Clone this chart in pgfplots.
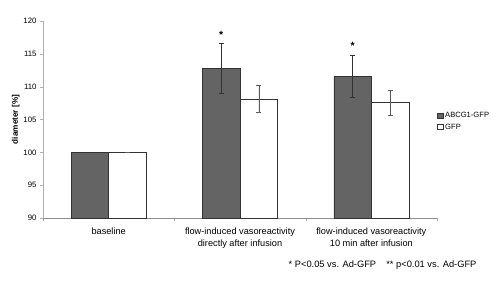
\documentclass[border=0pt]{standalone}
\usepackage{pgfplots}
\pgfplotsset{compat=1.18}
\usepackage{fontspec}
\setmainfont{Liberation Sans}
\definecolor{darkbar}{HTML}{646464}
\definecolor{axgray}{HTML}{B0B0B0}
\begin{document}
\begin{tikzpicture}
\path[use as bounding box] (-43pt,-67pt) rectangle (457pt,218pt);
\begin{axis}[
  at={(0,0)}, anchor=south west,
  scale only axis, width=394pt, height=197pt,
  xmin=0.5, xmax=3.5, ymin=90, ymax=120,
  ybar, bar width=37.5pt,
  axis lines*=left,
  x axis line style={-, draw=axgray!80!black},
  y axis line style={-, draw=axgray},
  ytick={90,95,...,120},
  xtick={1,2,3},
  xticklabels={baseline,{flow-induced vasoreactivity\\directly after infusion},{flow-induced vasoreactivity\\10 min after infusion}},
  xticklabel style={align=center, font=\fontsize{9.2}{12}\selectfont, yshift=-3pt},
  major x tick style={draw=none},
  minor xtick={0.5,1.5,2.5,3.5},
  minor x tick style={axgray},
  minor tick length=3pt,
  tick align=outside,
  major tick length=3pt,
  ytick style={axgray},
  yticklabel style={font=\fontsize{7.8}{8}\selectfont},
  /pgf/number format/assume math mode=true,
  ylabel={\textbf{diameter [\%]}},
  ylabel style={font=\fontsize{8.2}{8}\selectfont, yshift=-3pt},
  legend style={at={(1.0,0.49)}, anchor=west, draw=none, fill=none,
    font=\fontsize{7.6}{8}\selectfont, row sep=0.5pt, inner xsep=0pt},
  legend cell align=left,
  legend image code/.code={\draw[#1] (0pt,-2.6pt) rectangle (5.5pt,2.6pt);},
  clip=false,
]
\addplot[bar shift=-18.75pt, fill=darkbar, draw=black!80, line width=0.5pt,
  error bars/.cd, y dir=both, y explicit,
  error bar style={black!80, line width=0.5pt},
  error mark options={rotate=90, mark size=2.5pt, black!80, line width=0.5pt}]
  coordinates {(1,100) +- (0,0) (2,112.8) +- (0,3.8) (3,111.6) +- (0,3.2)};
\addlegendentry{ABCG1-GFP}
\addplot[bar shift=18.75pt, fill=white, draw=black!80, line width=0.5pt,
  error bars/.cd, y dir=both, y explicit,
  error bar style={black!65, line width=0.5pt},
  error mark options={rotate=90, mark size=2.5pt, black!65, line width=0.5pt}]
  coordinates {(1,100) +- (0,0) (2,108.1) +- (0,2.05) (3,107.6) +- (0,1.9)};
\addlegendentry{GFP}
\addplot[bar shift=-18.75pt, bar width=0pt, draw=none, fill=none, nodes near coords, point meta=explicit symbolic,
  nodes near coords style={anchor=center, font=\fontsize{10.5}{10}\selectfont\bfseries}, forget plot]
  coordinates {(2,117.9)[*] (3,116.2)[*]};
\node[anchor=east, font=\fontsize{9.3}{10}\selectfont] at (rel axis cs:1.109,-0.239)
  {* P<0.05 vs. Ad-GFP\hspace{1.1em}** p<0.01 vs. Ad-GFP};
\end{axis}
\end{tikzpicture}
\end{document}
